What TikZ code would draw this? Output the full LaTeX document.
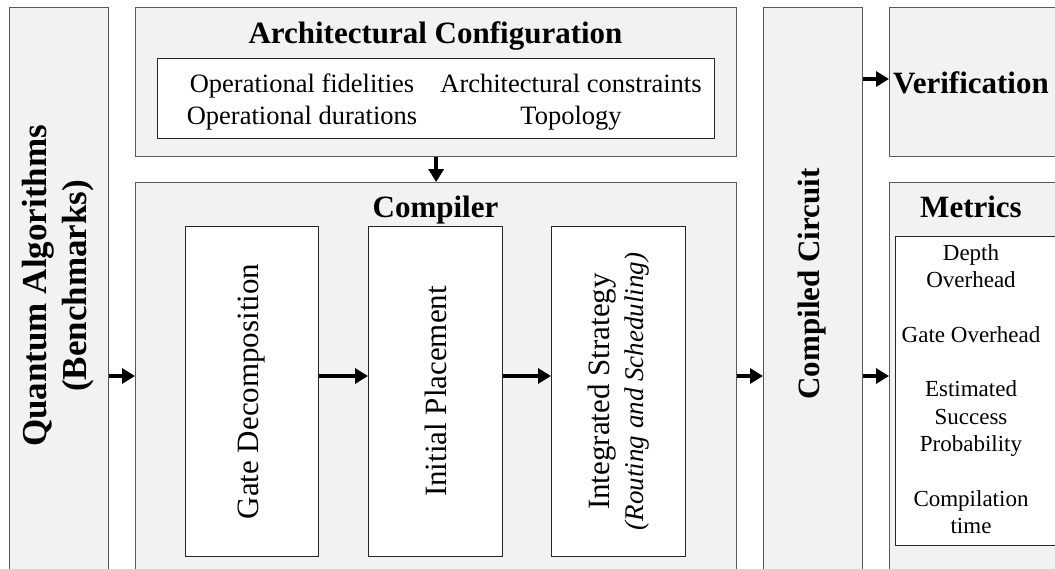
\documentclass[tikz,border=0pt]{standalone}
\usepackage{fontspec}
\setmainfont{Liberation Serif}
\usetikzlibrary{arrows.meta}
\definecolor{boxfill}{HTML}{F2F2F2}
\definecolor{boxline}{HTML}{5A5A5A}
\begin{document}
\begin{tikzpicture}[x=1pt,y=-1pt,
  outer/.style={draw=boxline,fill=boxfill,line width=1.3pt,rectangle,inner sep=0pt,anchor=north west},
  innerbox/.style={draw=black!85,fill=white,line width=1pt,rectangle,inner sep=0pt,anchor=north west},
  arr/.style={-{Triangle[length=13pt,width=15pt]},line width=4.5pt},
  ttl/.style={inner sep=0pt,font=\fontsize{31}{36}\selectfont\bfseries},
  body/.style={inner sep=0pt,font=\fontsize{26.5}{32}\selectfont},
  vert/.style={inner sep=0pt,rotate=90,align=center,font=\fontsize{31}{36}\selectfont},
  met/.style={inner sep=0pt,anchor=base,font=\fontsize{23}{27.3}\selectfont},
]
\useasboundingbox (0,0) rectangle (1055,568);
\begin{scope}
\clip (0,0) rectangle (1055,568);
% boxes
\node[outer,minimum width=99pt,minimum height=570pt] (qa) at (9,7) {};
\node[outer,minimum width=601pt,minimum height=149pt] (arch) at (135,7) {};
\node[innerbox,minimum width=557pt,minimum height=80pt] (archin) at (157,58) {};
\node[outer,minimum width=601pt,minimum height=395pt] (comp) at (135,182) {};
\node[innerbox,minimum width=133pt,minimum height=330pt] (gd) at (185,226) {};
\node[innerbox,minimum width=134pt,minimum height=330pt] (ip) at (368,226) {};
\node[innerbox,minimum width=134pt,minimum height=330pt] (is) at (551,226) {};
\node[outer,minimum width=99pt,minimum height=570pt] (cc) at (763,7) {};
\node[outer,minimum width=200pt,minimum height=149pt] (ver) at (889,7) {};
\node[outer,minimum width=200pt,minimum height=395pt] (met) at (889,182) {};
\node[innerbox,minimum width=200pt,minimum height=309pt] (metin) at (895,236) {};
% texts
\node[ttl,anchor=base] (archT) at (435.5,43) {Architectural Configuration};
\node[body,anchor=base] (a1) at (302,92) {Operational fidelities};
\node[body,anchor=base] (a2) at (571,92) {Architectural constraints};
\node[body,anchor=base] (a3) at (302,124) {Operational durations};
\node[body,anchor=base] (a4) at (571,124) {Topology};
\node[ttl,anchor=base] (compT) at (435.5,217) {Compiler};
\node[ttl,anchor=base] (metT) at (971,217) {Metrics};
\node[ttl,anchor=base] (verT) at (971,93) {Verification};
\node[vert,font=\fontsize{35}{40}\selectfont\bfseries] (qaT) at (58,286) {Quantum Algorithms\\(Benchmarks)};
\node[vert,font=\fontsize{31}{36}\selectfont\bfseries] (ccT) at (812,284) {Compiled Circuit};
\node[vert] (gdT) at (gd.center) {Gate Decomposition};
\node[vert] (ipT) at (ip.center) {Initial Placement};
\node[vert,font=\fontsize{31}{34}\selectfont] (isT) at (is.center) {Integrated Strategy\\{\fontsize{27}{34}\selectfont\itshape (Routing and Scheduling)}};
\node[met] (m1) at (971,260) {Depth};
\node[met] (m2) at (971,287) {Overhead};
\node[met] (m3) at (971,342) {Gate Overhead};
\node[met] (m4) at (971,396) {Estimated};
\node[met] (m5) at (971,424) {Success};
\node[met] (m6) at (971,451) {Probability};
\node[met] (m7) at (971,506) {Compilation};
\node[met] (m8) at (971,533) {time};
% arrows
\coordinate (ay) at (0,376);
\coordinate (vy) at (0,79);
\draw[arr] (qa.east |- ay) -- (comp.west |- ay);
\draw[arr] (gd.east |- ay) -- (ip.west |- ay);
\draw[arr] (ip.east |- ay) -- (is.west |- ay);
\draw[arr] (comp.east |- ay) -- (cc.west |- ay);
\draw[arr] (cc.east |- ay) -- (met.west |- ay);
\draw[arr] (cc.east |- vy) -- (ver.west |- vy);
\draw[arr] (arch.south) -- (comp.north);
\end{scope}
\end{tikzpicture}
\end{document}
